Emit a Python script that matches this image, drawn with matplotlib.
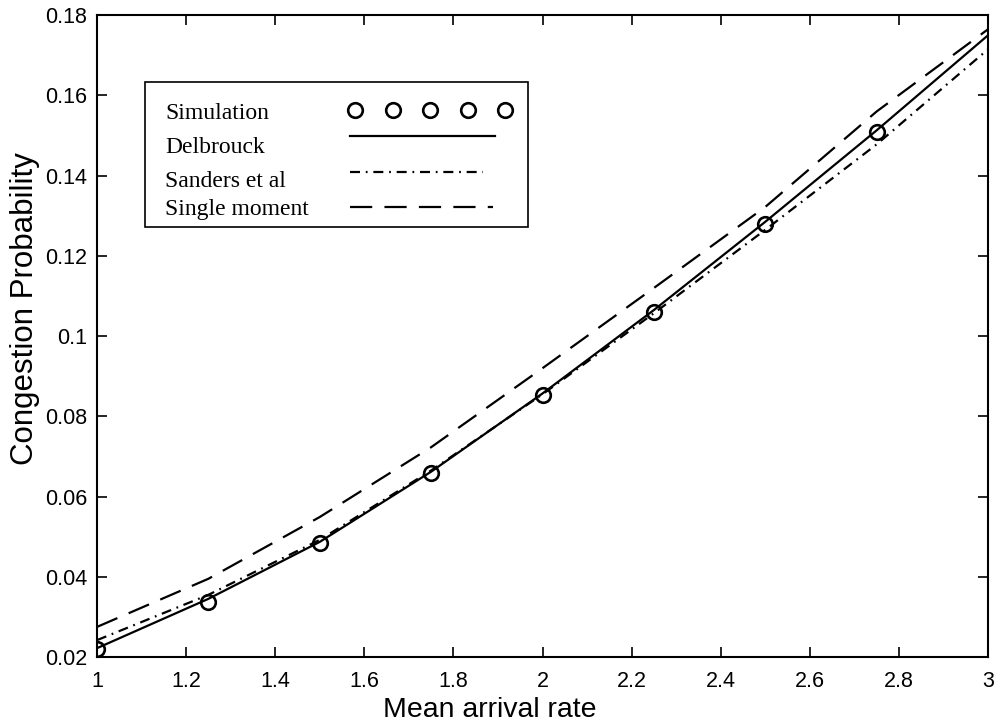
import numpy as np
import matplotlib
matplotlib.use('Agg')
import matplotlib.pyplot as plt
from matplotlib.patches import Rectangle

plt.rcParams['font.family'] = ['Liberation Sans', 'DejaVu Sans']

# ---- data ----
rate = [1.0, 1.25, 1.5, 1.75, 2.0, 2.25, 2.5, 2.75, 3.0]
sim_x = [1.0, 1.25, 1.5, 1.75, 2.0, 2.25, 2.5, 2.75]
sim_y = [0.0220, 0.0337, 0.0484, 0.0659, 0.0853, 0.1060, 0.1280, 0.1508]
delbrouck = [0.0222, 0.0345, 0.0487, 0.0662, 0.0857, 0.1065, 0.1285, 0.1513, 0.1750]
sanders = [0.0242, 0.0355, 0.0492, 0.0665, 0.0855, 0.1057, 0.1265, 0.1478, 0.1715]
single = [0.0275, 0.0395, 0.0549, 0.0723, 0.0920, 0.1120, 0.1322, 0.1560, 0.1765]
names = ['Simulation', 'Delbrouck', 'Sanders et al', 'Single moment']

DASHDOT = (0, (4.5, 2.6, 0.8, 2.6))
DASHED = (0, (10.0, 5.5))
LW = 1.6

fig = plt.figure(figsize=(9.98, 7.25), dpi=100)
ax = fig.add_axes([0.0972, 0.0938, 0.8928, 0.8852])

ax.plot(rate, delbrouck, color='black', lw=LW, ls='-')
ax.plot(rate, sanders, color='black', lw=LW, ls=DASHDOT)
ax.plot(rate, single, color='black', lw=LW, ls=DASHED)
ax.plot(sim_x, sim_y, ls='none', marker='o', ms=10.5, mfc='none', mec='black', mew=1.9)

ax.set_xlim(1, 3)
ax.set_ylim(0.02, 0.18)
ax.set_xticks([1, 1.2, 1.4, 1.6, 1.8, 2, 2.2, 2.4, 2.6, 2.8, 3])
ax.set_xticklabels(['1', '1.2', '1.4', '1.6', '1.8', '2', '2.2', '2.4', '2.6', '2.8', '3'])
ax.set_yticks([0.02, 0.04, 0.06, 0.08, 0.1, 0.12, 0.14, 0.16, 0.18])
ax.set_yticklabels(['0.02', '0.04', '0.06', '0.08', '0.1', '0.12', '0.14', '0.16', '0.18'])
ax.tick_params(direction='in', top=True, right=True, length=7, width=1.2, labelsize=15.5)
ax.tick_params(axis='x', pad=10)
ax.tick_params(axis='y', pad=7)
for s in ax.spines.values():
    s.set_linewidth(1.5)

# labels sit off-centre in the reference (pixel positions mapped to axes fractions)
ax.set_xlabel('Mean arrival rate', fontsize=20.5)
ax.xaxis.label.set_va('baseline')
ax.xaxis.set_label_coords((490 - 97) / 891, 1 - (717 - 15) / 642)
ax.set_ylabel('Congestion Probability', fontsize=22.5)
ax.yaxis.set_label_coords((40 - 97) / 891, 1 - (308 - 15) / 642)

# ---- MATLAB-style legend: text left, handles right ----
def axc(px, py):
    return (px - 97) / 891, 1 - (py - 15) / 642

x0, y1 = axc(145, 82)
x1, y0 = axc(528, 227)
ax.add_patch(Rectangle((x0, y0), x1 - x0, y1 - y0, transform=ax.transAxes,
                       fill=True, fc='white', ec='black', lw=1.2, zorder=5))
text_base = [119, 153, 187, 215]
handle_py = [110, 136, 172, 207]
handle_end = [505, 495, 483, 493]
tx, _ = axc(165, 0)
hx0, _ = axc(350, 0)
for name, py in zip(names, text_base):
    _, ty = axc(0, py)
    ax.text(tx, ty, name, transform=ax.transAxes, va='baseline', ha='left',
            fontsize=17, family='Liberation Serif', zorder=6)
_, ty = axc(0, handle_py[0])
cx0, _ = axc(355, 0)
cx1, _ = axc(handle_end[0], 0)
ax.plot(np.linspace(cx0, cx1, 5), [ty] * 5, transform=ax.transAxes, ls='none',
        marker='o', ms=10.5, mfc='none', mec='black', mew=1.9, zorder=6, clip_on=False)
for py, pe, ls in zip(handle_py[1:], handle_end[1:], ['-', DASHDOT, DASHED]):
    _, ty = axc(0, py)
    hx1, _ = axc(pe, 0)
    ax.plot([hx0, hx1], [ty, ty], transform=ax.transAxes, color='black', lw=LW, ls=ls,
            zorder=6, clip_on=False)

fig.savefig('out.png', dpi=100)
